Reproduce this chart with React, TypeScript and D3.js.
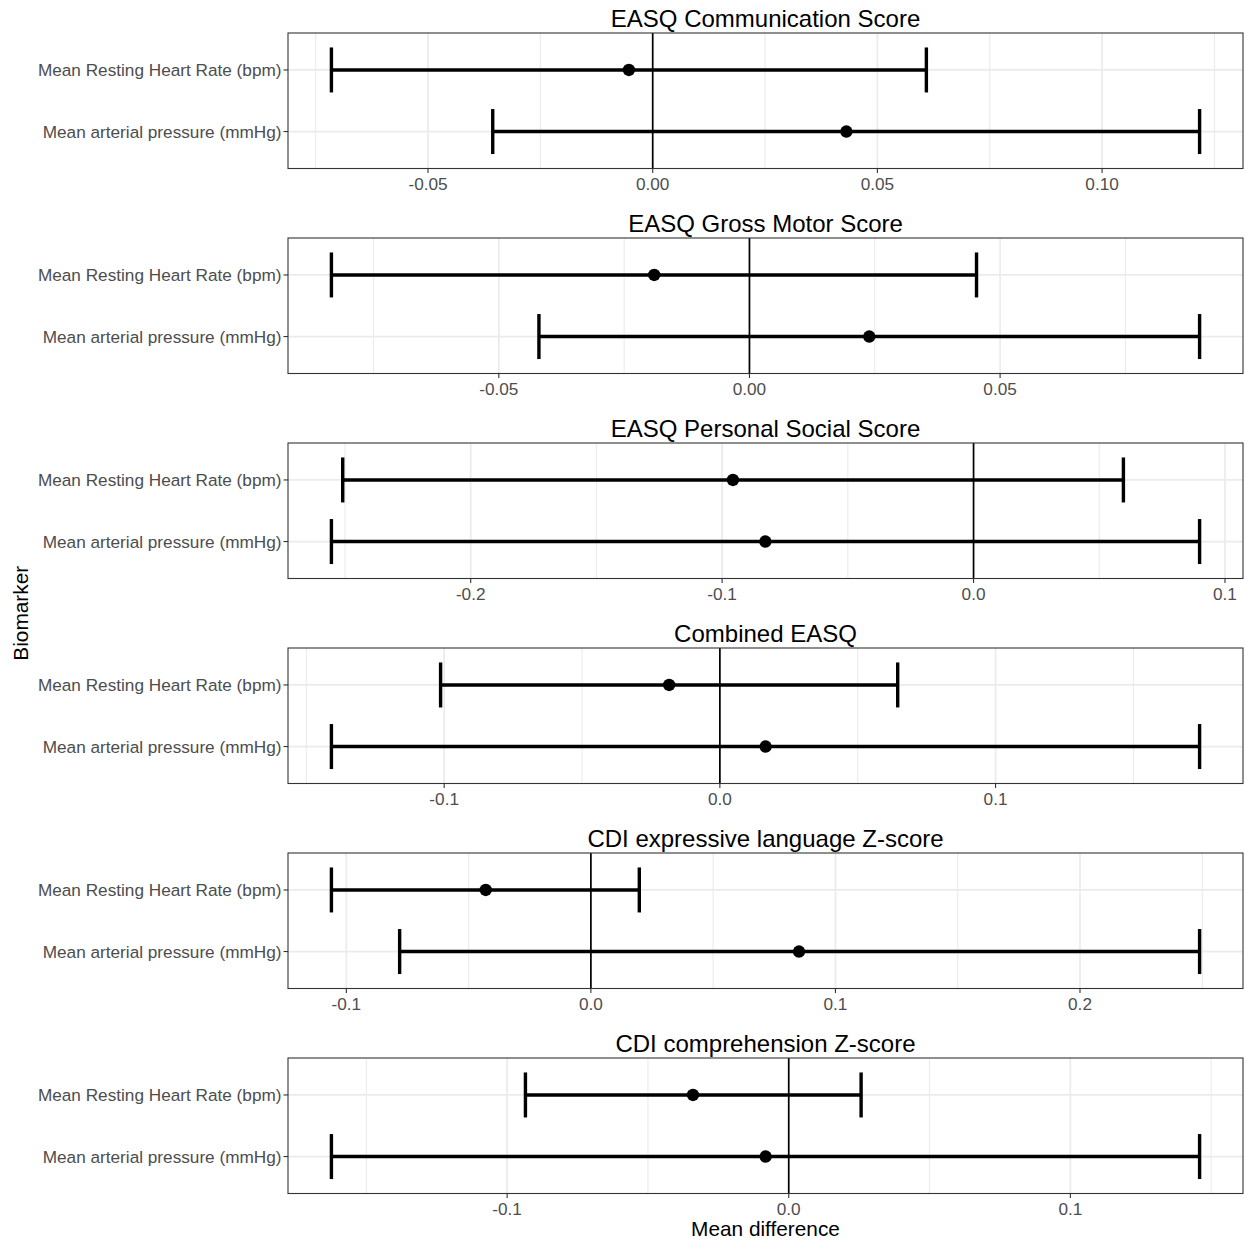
import React from "react";
import * as d3 from "d3";

// Outcome panels, top to bottom
const outcomes = [
  "EASQ Communication Score",
  "EASQ Gross Motor Score",
  "EASQ Personal Social Score",
  "Combined EASQ",
  "CDI expressive language Z-score",
  "CDI comprehension Z-score",
];

// Biomarkers, listed top to bottom inside each panel
const biomarkers = ["Mean Resting Heart Rate (bpm)", "Mean arterial pressure (mmHg)"];

// Mean difference with 95% CI, heart rate
const hrEstimate = [-0.0053, -0.019, -0.0957, -0.0184, -0.043, -0.034];
const hrLower = [-0.0715, -0.0834, -0.2509, -0.1013, -0.1061, -0.0935];
const hrUpper = [0.0609, 0.0453, 0.0596, 0.0645, 0.0198, 0.0257];

// Mean difference with 95% CI, mean arterial pressure
const mapEstimate = [0.0431, 0.0239, -0.0828, 0.0166, 0.0851, -0.0082];
const mapLower = [-0.0356, -0.042, -0.2554, -0.1409, -0.0782, -0.1624];
const mapUpper = [0.1217, 0.0898, 0.0899, 0.174, 0.2489, 0.1459];

// x-axis break labels per panel
const tickLabels = [
  ["-0.05", "0.00", "0.05", "0.10"],
  ["-0.05", "0.00", "0.05"],
  ["-0.2", "-0.1", "0.0", "0.1"],
  ["-0.1", "0.0", "0.1"],
  ["-0.1", "0.0", "0.1", "0.2"],
  ["-0.1", "0.0", "0.1"],
];

const W = 1246;
const H = 1240;
const FONT = "'Liberation Sans', Arial, Helvetica, sans-serif";
const PANEL_LEFT = 288;
const PANEL_RIGHT = 1243;
const PANEL_TOP0 = 33;
const PANEL_STEP = 205;
const PANEL_H = 135.5;

function Panel({ i }: { i: number }) {
  const top = PANEL_TOP0 + PANEL_STEP * i;
  const bottom = top + PANEL_H;
  const rows = [
    { label: biomarkers[0], est: hrEstimate[i], lo: hrLower[i], hi: hrUpper[i] },
    { label: biomarkers[1], est: mapEstimate[i], lo: mapLower[i], hi: mapUpper[i] },
  ];
  const dmin = Math.min(...rows.map((r) => r.lo));
  const dmax = Math.max(...rows.map((r) => r.hi));
  const pad = (dmax - dmin) * 0.05;
  const x = d3.scaleLinear().domain([dmin - pad, dmax + pad]).range([PANEL_LEFT, PANEL_RIGHT]);
  const y = d3.scalePoint<string>().domain(biomarkers).range([top, bottom]).padding(0.6);

  const majors = tickLabels[i].map((t) => +t);
  const step = majors[1] - majors[0];
  const [x0, x1] = x.domain();
  const minors: number[] = [];
  for (let k = -1; k < majors.length; k++) {
    const v = majors[0] + step * (k + 0.5);
    if (v >= x0 && v <= x1) minors.push(v);
  }
  const capH = 22.5;

  return (
    <g>
      <rect x={PANEL_LEFT} y={top} width={PANEL_RIGHT - PANEL_LEFT} height={PANEL_H} fill="#FFFFFF" />
      {minors.map((v) => (
        <line key={"mn" + v} x1={x(v)} x2={x(v)} y1={top} y2={bottom} stroke="#EBEBEB" strokeWidth={1.1} />
      ))}
      {majors.map((v) => (
        <line key={"mj" + v} x1={x(v)} x2={x(v)} y1={top} y2={bottom} stroke="#EBEBEB" strokeWidth={1.7} />
      ))}
      {biomarkers.map((b) => (
        <line key={"hg" + b} x1={PANEL_LEFT} x2={PANEL_RIGHT} y1={y(b)} y2={y(b)} stroke="#EBEBEB" strokeWidth={1.7} />
      ))}
      <line x1={x(0)} x2={x(0)} y1={top} y2={bottom} stroke="#000000" strokeWidth={1.7} />
      {rows.map((r) => {
        const cy = y(r.label) as number;
        return (
          <g key={r.label}>
            <line x1={x(r.lo)} x2={x(r.hi)} y1={cy} y2={cy} stroke="#000000" strokeWidth={3.4} />
            <line x1={x(r.lo)} x2={x(r.lo)} y1={cy - capH} y2={cy + capH} stroke="#000000" strokeWidth={3.4} />
            <line x1={x(r.hi)} x2={x(r.hi)} y1={cy - capH} y2={cy + capH} stroke="#000000" strokeWidth={3.4} />
            <circle cx={x(r.est)} cy={cy} r={6.2} fill="#000000" />
          </g>
        );
      })}
      <rect
        x={PANEL_LEFT}
        y={top}
        width={PANEL_RIGHT - PANEL_LEFT}
        height={PANEL_H}
        fill="none"
        stroke="#333333"
        strokeWidth={1.1}
      />
      {/* y axis ticks and labels */}
      {biomarkers.map((b) => (
        <g key={"yl" + b}>
          <line x1={PANEL_LEFT - 4.5} x2={PANEL_LEFT} y1={y(b)} y2={y(b)} stroke="#333333" strokeWidth={1.1} />
          <text
            x={PANEL_LEFT - 6.5}
            y={y(b)}
            dy="0.35em"
            textAnchor="end"
            fontFamily={FONT}
            fontSize={17.2}
            fill="#4D4D4D"
          >
            {b}
          </text>
        </g>
      ))}
      {/* x axis ticks and labels */}
      {tickLabels[i].map((t) => {
        const v = +t;
        return (
          <g key={"xt" + t}>
            <line x1={x(v)} x2={x(v)} y1={bottom} y2={bottom + 4.5} stroke="#333333" strokeWidth={1.1} />
            <text
              x={x(v)}
              y={bottom + 21.2}
              textAnchor="middle"
              fontFamily={FONT}
              fontSize={17.2}
              fill="#4D4D4D"
            >
              {t}
            </text>
          </g>
        );
      })}
      <text
        x={(PANEL_LEFT + PANEL_RIGHT) / 2}
        y={top - 6}
        textAnchor="middle"
        fontFamily={FONT}
        fontSize={24}
        fill="#000000"
      >
        {outcomes[i]}
      </text>
    </g>
  );
}

export default function App() {
  const lastBottom = PANEL_TOP0 + PANEL_STEP * (outcomes.length - 1) + PANEL_H;
  return (
    <svg
      width={W}
      height={H}
      viewBox={`0 0 ${W} ${H}`}
      style={{ position: "absolute", left: 0, top: 0, background: "#FFFFFF" }}
    >
      <rect x={0} y={0} width={W} height={H} fill="#FFFFFF" />
      {outcomes.map((o, i) => (
        <Panel key={o} i={i} />
      ))}
      <text
        x={(PANEL_LEFT + PANEL_RIGHT) / 2}
        y={lastBottom + 42.5}
        textAnchor="middle"
        fontFamily={FONT}
        fontSize={20.8}
        fill="#000000"
      >
        Mean difference
      </text>
      <text
        transform={`translate(27.5, ${(PANEL_TOP0 + lastBottom) / 2}) rotate(-90)`}
        textAnchor="middle"
        fontFamily={FONT}
        fontSize={20.8}
        fill="#000000"
      >
        Biomarker
      </text>
    </svg>
  );
}
